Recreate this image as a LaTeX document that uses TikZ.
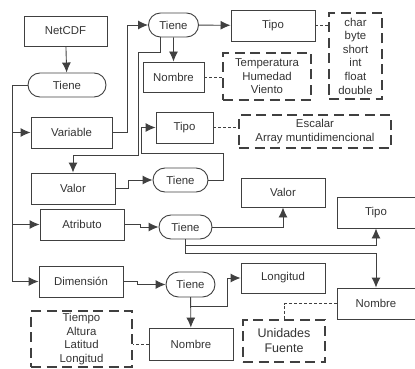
\documentclass[tikz,border=0pt]{standalone}
\usepackage{fontspec}
\setmainfont{Liberation Sans}
\usetikzlibrary{shapes.misc, arrows.meta}

\begin{document}
\begin{tikzpicture}[x=1pt, y=-1pt, >={Latex[length=10pt,width=9pt]},
    font=\fontsize{11.4}{13.6}\selectfont,
    box/.style={draw=black!75, line width=0.9pt, text=black!80, minimum width=84pt, minimum height=31pt, inner sep=1pt},
    tiene/.style={draw=black!75, line width=0.9pt, text=black!80, rounded rectangle, minimum width=52pt, minimum height=24pt, inner sep=1pt},
    lista/.style={draw=black!75, line width=1.6pt, dash pattern=on 10pt off 5.5pt, text=black!80, align=center, inner sep=1pt},
    link/.style={draw=black!75, line width=0.9pt},
    nota/.style={draw=black!75, line width=0.7pt, dash pattern=on 3pt off 2pt}]
            \useasboundingbox (0,0) rectangle (415,369);

            \node[box, minimum width=83pt, minimum height=30pt] (netcdf) at (65.5,31) {NetCDF};
            \node[tiene, minimum width=80pt] (tiene0) at (67,85) {Tiene};
            \node[box, minimum width=81pt] (variable) at (71.5,132.5) {Variable};
            \node[tiene] (tieneVar) at (173.5,25) {Tiene};
            \node[box, minimum width=61pt, minimum height=30pt] (nombreVar) at (173.5,77) {Nombre};
            \node[box] (tipoVar) at (273,25.5) {Tipo};
            \node[lista, minimum width=53pt, minimum height=86pt] (tipos) at (355.5,56) {char\\byte\\short\\int\\float\\double};
            \node[lista, minimum width=88pt, minimum height=47pt] (variables) at (267,76.5) {Temperatura\\Humedad\\Viento};
            \node[box, minimum width=57pt] (tipoValor) at (184.5,127.5) {Tipo};
            \node[lista, minimum width=152pt, minimum height=33pt] (clases) at (315,131.5) {Escalar\\Array muntidimencional};
            \node[box] (valor) at (73,188.5) {Valor};
            \node[tiene, minimum width=57pt] (tieneValor) at (180.5,180) {Tiene};
            \node[box] (atributo) at (82,224.5) {Atributo};
            \node[tiene, minimum width=55pt] (tieneAtr) at (185.5,227) {Tiene};
            \node[box, minimum height=29pt] (valorAtr) at (283,192.5) {Valor};
            \node[box, minimum width=78pt] (tipoAtr) at (376,212.5) {Tipo};
            \node[box] (dimension) at (81,281.5) {Dimensión};
            \node[tiene, minimum width=51pt, minimum height=25pt] (tieneDim) at (190.5,284.5) {Tiene};
            \node[box, minimum height=30pt] (longitud) at (283,278) {Longitud};
            \node[box, minimum width=78pt] (nombreAtr) at (376,303.5) {Nombre};
            \node[box, minimum height=32pt] (nombreDim) at (191,344) {Nombre};
            \node[lista, minimum width=101pt, minimum height=56pt] (ejes) at (81.5,339) {Tiempo\\Altura\\Latitud\\Longitud};
            \node[lista, minimum width=82pt, minimum height=42pt, font=\fontsize{12.5}{15}\selectfont] (unidades) at (284,341) {Unidades\\Fuente};

            \coordinate (tronco) at (12,85);
            \draw[link] (tiene0.west) -- (tronco) -- (tronco |- dimension.west);
            \draw[link, ->] (netcdf) -- (tiene0);
            \draw[link, ->] (tronco |- variable.west) -- (variable.west);
            \draw[link, ->] (tronco |- atributo.west) -- (atributo.west);
            \draw[link, ->] (tronco |- dimension.west) -- (dimension.west);

            \draw[link, ->] (variable.east) -- ++(15,0) |- (tieneVar.west);
            \draw[link, ->] (tieneVar) -- (tipoVar);
            \draw[link, ->] (tieneVar) -- (nombreVar);
            \draw[link, ->] ([xshift=-13.5pt]tieneVar.south) -- ++(0,15) -| (138,155) -| (valor.north);
            \draw[link, ->] (valor.east) -- ++(13,0) |- (tieneValor.west);
            \draw[link, ->] (tieneValor.east) -- ++(15,0) |- (141,153) |- (tipoValor.west);

            \draw[link, ->] (atributo.east) -- ++(16,0) |- (tieneAtr.west);
            \draw[link, ->] (tieneAtr.east) -| (valorAtr.south);
            \draw[link, ->] (tieneAtr.south) -- ++(0,6) -| (tipoAtr.south);
            \draw[link, ->] (tieneAtr.south) -- ++(0,14) -| (nombreAtr.north);

            \draw[link, ->] (dimension.east) -- ++(14,0) |- (tieneDim.west);
            \draw[link, ->] (tieneDim.south) -- ++(0,9) -- ++(36.5,0) |- (longitud.west);
            \draw[link, ->] (tieneDim) -- (nombreDim);

            \draw[nota] (tipoVar.east) -- (tipos.west |- tipoVar.east);
            \draw[nota] (nombreVar.east) -- (variables.west |- nombreVar.east);
            \draw[nota] (tipoValor.east) -- (clases.west |- tipoValor.east);
            \draw[nota] (nombreDim.west) -- (ejes.east |- nombreDim.west);
            \draw[nota] (nombreAtr.west) -| (unidades.north);
        \end{tikzpicture}
\end{document}
